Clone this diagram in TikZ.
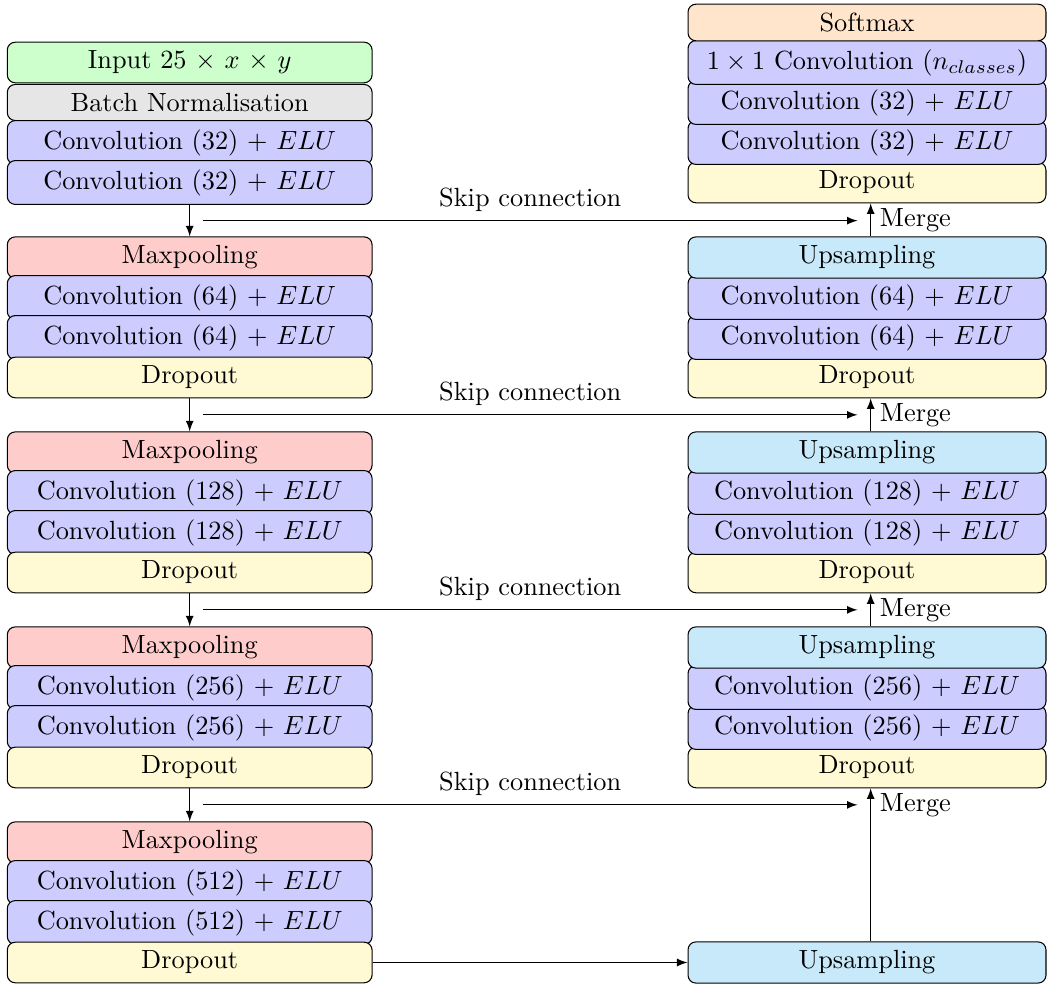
\documentclass[tikz,border=0pt]{standalone}
\usetikzlibrary{calc}

\definecolor{inputcol}{RGB}{204,255,204}
\definecolor{batchcol}{RGB}{230,230,230}
\definecolor{convcol}{RGB}{204,204,255}
\definecolor{poolcol}{RGB}{255,204,204}
\definecolor{dropcol}{RGB}{255,250,212}
\definecolor{upcol}{RGB}{200,233,249}
\definecolor{softcol}{RGB}{255,229,204}

\begin{document}
\begin{tikzpicture}[x=0.38023pt,y=-0.38023pt,
  layer/.style={draw, rounded corners=3pt, inner sep=3.33pt, align=center},
  lcol/.style={layer, minimum width=138.7pt},
  rcol/.style={layer, minimum width=136.1pt},
  conv/.style={fill=convcol},
  pool/.style={fill=poolcol},
  drop/.style={fill=dropcol},
  ups/.style={fill=upcol},
  flow/.style={-latex}]
\useasboundingbox (0,0) rectangle (1047,985);

% ---------------- contracting path (drawn top to bottom) ----------------
\node[lcol, fill=inputcol] (in)  at (189.7,62.5)  {Input 25 $\times$ $x$ $\times$ $y$};
\node[lcol, fill=batchcol] (bn)  at (189.7,102.5) {Batch Normalisation};
\node[lcol, conv] (c0a) at (189.7,142.5) {Convolution (32) + $ELU$};
\node[lcol, conv] (c0b) at (189.7,182.5) {Convolution (32) + $ELU$};

\node[lcol, pool] (mp1) at (189.7,257.5) {Maxpooling};
\node[lcol, conv] (c1a) at (189.7,297.5) {Convolution (64) + $ELU$};
\node[lcol, conv] (c1b) at (189.7,337.5) {Convolution (64) + $ELU$};
\node[lcol, drop] (d1)  at (189.7,377.5) {Dropout};

\node[lcol, pool] (mp2) at (189.7,452.5) {Maxpooling};
\node[lcol, conv] (c2a) at (189.7,492.5) {Convolution (128) + $ELU$};
\node[lcol, conv] (c2b) at (189.7,532.5) {Convolution (128) + $ELU$};
\node[lcol, drop] (d2)  at (189.7,572.5) {Dropout};

\node[lcol, pool] (mp3) at (189.7,647.5) {Maxpooling};
\node[lcol, conv] (c3a) at (189.7,687.5) {Convolution (256) + $ELU$};
\node[lcol, conv] (c3b) at (189.7,727.5) {Convolution (256) + $ELU$};
\node[lcol, drop] (d3)  at (189.7,767.5) {Dropout};

\node[lcol, pool] (mp4) at (189.7,842.5) {Maxpooling};
\node[lcol, conv] (c4a) at (189.7,882.5) {Convolution (512) + $ELU$};
\node[lcol, conv] (c4b) at (189.7,922.5) {Convolution (512) + $ELU$};
\node[lcol, drop] (d4)  at (189.7,962.5) {Dropout};

% ---------------- expanding path (drawn bottom to top) ----------------
\node[rcol, ups] (u4) at (867,962.5) {Upsampling};

\node[rcol, drop] (e3)  at (867,767.5) {Dropout};
\node[rcol, conv] (r3b) at (867,727.5) {Convolution (256) + $ELU$};
\node[rcol, conv] (r3a) at (867,687.5) {Convolution (256) + $ELU$};
\node[rcol, ups]  (u3)  at (867,647.5) {Upsampling};

\node[rcol, drop] (e2)  at (867,572.5) {Dropout};
\node[rcol, conv] (r2b) at (867,532.5) {Convolution (128) + $ELU$};
\node[rcol, conv] (r2a) at (867,492.5) {Convolution (128) + $ELU$};
\node[rcol, ups]  (u2)  at (867,452.5) {Upsampling};

\node[rcol, drop] (e1)  at (867,377.5) {Dropout};
\node[rcol, conv] (r1b) at (867,337.5) {Convolution (64) + $ELU$};
\node[rcol, conv] (r1a) at (867,297.5) {Convolution (64) + $ELU$};
\node[rcol, ups]  (u1)  at (867,257.5) {Upsampling};

\node[rcol, drop] (e0)  at (867,182.5) {Dropout};
\node[rcol, conv] (r0b) at (867,142.5) {Convolution (32) + $ELU$};
\node[rcol, conv] (r0a) at (867,102.5) {Convolution (32) + $ELU$};
\node[rcol, conv] (out) at (867,62.5)  {$1 \times 1$ Convolution $(n_{classes})$};
\node[rcol, fill=softcol] (sm) at (867,22.5) {Softmax};

% ---------------- connections ----------------
% encoder steps
\draw[flow] (c0b.south) -- (mp1.north);
\draw[flow] (d1.south)  -- (mp2.north);
\draw[flow] (d2.south)  -- (mp3.north);
\draw[flow] (d3.south)  -- (mp4.north);

% bottleneck to first upsampling
\draw[flow] (d4.east) -- (u4.west);

% decoder steps
\draw[flow] ([xshift=1.4pt]u1.north) -- ([xshift=1.4pt]e0.south);
\draw[flow] ([xshift=1.4pt]u2.north) -- ([xshift=1.4pt]e1.south);
\draw[flow] ([xshift=1.4pt]u3.north) -- ([xshift=1.4pt]e2.south);
\draw[flow] ([xshift=1.4pt]u4.north) -- ([xshift=1.4pt]e3.south);

% skip connections and merge points
\foreach \lo/\hi/\up/\i in {c0b/mp1/u1/1, d1/mp2/u2/2, d2/mp3/u3/3, d3/mp4/u4/4} {
  \coordinate (a\i) at ($(\lo.south)!0.5!(\hi.north)$);
  \coordinate (m\i) at ($(a\i -| \up.north)+(1.4pt,0)$);
  \draw[flow] ($(a\i)+(5pt,0)$) -- node[above] {Skip connection} ($(m\i)+(-5pt,0)$);
  \node[right, inner sep=3.33pt] (mg\i) at (m\i) {Merge};
}
\end{tikzpicture}
\end{document}
